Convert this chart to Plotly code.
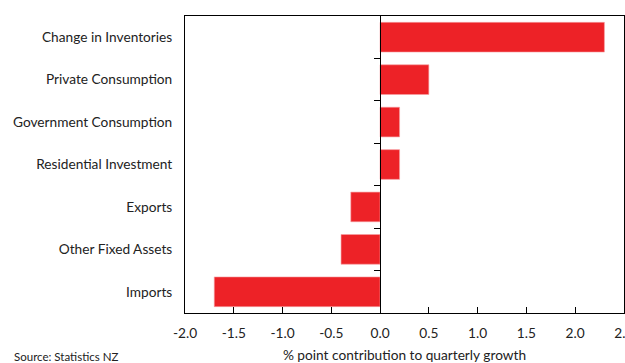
import plotly.graph_objects as go

categories = ["Imports", "Other Fixed Assets", "Exports", "Residential Investment",
              "Government Consumption", "Private Consumption", "Change in Inventories"]
values = [-1.7, -0.4, -0.3, 0.2, 0.2, 0.5, 2.3]
x_ticks = [-2.0, -1.5, -1.0, -0.5, 0.0, 0.5, 1.0, 1.5, 2.0, 2.5]
x_title = "% point contribution to quarterly growth"
source = "Source: Statistics NZ"

FONT = "Lato, 'Open Sans', sans-serif"
red = "#ED2227"

fig = go.Figure()
fig.add_trace(go.Bar(
    x=values, y=categories, orientation="h",
    marker=dict(color=red, line=dict(color="#F7A0A2", width=0.6)),
    width=0.7,
))

xmin, xmax = -2.0, 2.5
fig.update_layout(
    width=625, height=363,
    margin=dict(l=185, r=1, t=16, b=50),
    paper_bgcolor="white", plot_bgcolor="white",
    showlegend=False,
    font=dict(family=FONT, size=13.7, color="#222"),
    xaxis=dict(
        range=[xmin, xmax + 0.001], tickvals=x_ticks,
        ticktext=[f"{v:.1f}" for v in x_ticks],
        ticks="inside", ticklen=6, tickcolor="#000", tickwidth=1,
        showline=True, linecolor="#000", linewidth=1, mirror=True,
        showgrid=False, zeroline=False, automargin=False,
        ticklabelstandoff=8, ticklabeloverflow="allow",
        title=dict(text=x_title, standoff=10, font=dict(size=13.7)),
        tickfont=dict(size=13.7),
    ),
    yaxis=dict(
        range=[-0.5, 6.5], showline=True, linecolor="#000", linewidth=1, mirror=True,
        ticks="", showgrid=False, zeroline=False, ticklabelstandoff=9,
        tickfont=dict(size=13.7),
    ),
    yaxis2=dict(
        overlaying="y", anchor="free",
        position=(0 - xmin) / (xmax - xmin),
        range=[-0.5, 6.5], tickvals=[0.5, 1.5, 2.5, 3.5, 4.5, 5.5],
        ticks="outside", ticklen=6, tickcolor="#000",
        showticklabels=False, showline=True, linecolor="#000", linewidth=1,
        showgrid=False, zeroline=False,
    ),
    annotations=[dict(
        text=source, xref="paper", yref="paper",
        x=-173 / 439, y=-43 / 297, xanchor="left", yanchor="middle",
        showarrow=False, font=dict(size=11.5, color="#222"),
    )],
)
fig.add_trace(go.Scatter(x=[None], y=[None], yaxis="y2", showlegend=False))

fig.write_html("out.html")
